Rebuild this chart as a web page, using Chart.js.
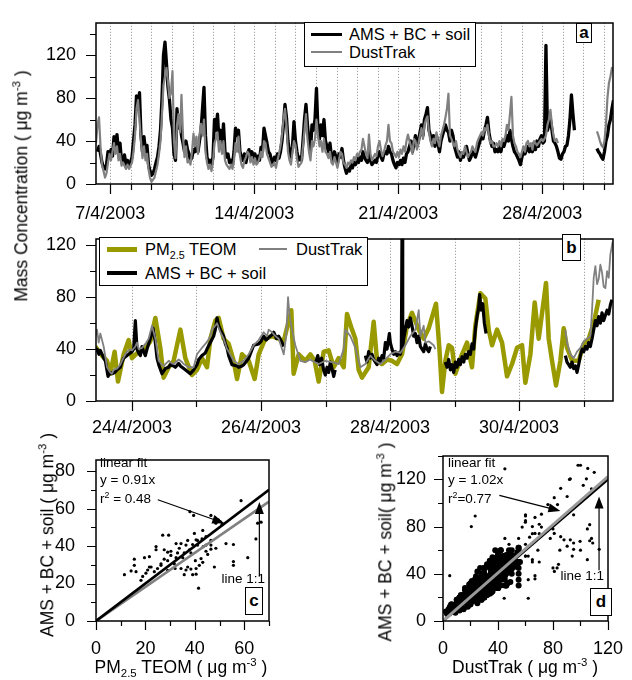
<!DOCTYPE html>
<html>
<head>
<meta charset="utf-8">
<script src="https://cdn.jsdelivr.net/npm/chart.js@4.4.0/dist/chart.umd.min.js"></script>
<style>
  body { margin: 0; background: #fff; font-family: "Liberation Sans", Arial, sans-serif; color: #000; }
  #wrap { position: relative; width: 632px; height: 680px; overflow: hidden; }
  canvas { position: absolute; }
  .t { position: absolute; white-space: nowrap; font-size: 16.5px; line-height: 1; transform: translateY(-50%); }
  .s { font-size: 13.5px; }
  .ct { position: absolute; white-space: nowrap; font-size: 17.5px; line-height: 1; transform: translate(-50%, -50%); }
  .rot { position: absolute; white-space: nowrap; font-size: 17.5px; line-height: 1; transform: translate(-50%, -50%) rotate(-90deg); }
  .lg { position: absolute; border: 1.5px solid #000; background: #fff; box-sizing: border-box; }
  .ln { position: absolute; }
  .bx { position: absolute; border: 1.5px solid #000; background: #fff; box-sizing: border-box;
        font-weight: bold; font-size: 17px; display: flex; align-items: center; justify-content: center; }
  sup { font-size: 65%; position: relative; top: -0.6em; vertical-align: baseline; line-height: 0; }
  sub { font-size: 65%; position: relative; top: 0.35em; vertical-align: baseline; line-height: 0; }
</style>
</head>
<body>
<div id="wrap">
  <canvas id="ca" width="632" height="230" style="left:0;top:0"></canvas>
  <canvas id="cb" width="632" height="226" style="left:0;top:216px"></canvas>
  <canvas id="cc" width="300" height="244" style="left:0;top:436px"></canvas>
  <canvas id="cd" width="316" height="244" style="left:316px;top:436px"></canvas>

  <div class="rot" style="left:22px;top:186px">Mass Concentration ( μg m<sup>-3</sup> )</div>

  <!-- panel a legend -->
  <div class="lg" style="left:304px;top:22px;width:172px;height:45px"></div>
  <div class="ln" style="left:311px;top:32.5px;width:31px;height:3px;background:#000"></div>
  <div class="ln" style="left:311px;top:51px;width:31px;height:2px;background:#808080"></div>
  <div class="t" style="left:349px;top:34px">AMS + BC + soil</div>
  <div class="t" style="left:349px;top:52px">DustTrak</div>
  <div class="bx" style="left:576px;top:23px;width:16px;height:20px">a</div>

  <!-- panel b legend -->
  <div class="lg" style="left:99px;top:237px;width:269px;height:49px"></div>
  <div class="ln" style="left:107px;top:247px;width:30px;height:5px;background:#999900"></div>
  <div class="t" style="left:145px;top:249px">PM<sub>2.5</sub> TEOM</div>
  <div class="ln" style="left:259px;top:248px;width:28px;height:2px;background:#808080"></div>
  <div class="t" style="left:296px;top:249px">DustTrak</div>
  <div class="ln" style="left:107px;top:271px;width:30px;height:4px;background:#000"></div>
  <div class="t" style="left:145px;top:273px">AMS + BC + soil</div>
  <div class="bx" style="left:562px;top:234px;width:19px;height:27px">b</div>

  <!-- panel c text -->
  <div class="t s" style="left:100px;top:463px">linear fit</div>
  <div class="t s" style="left:100px;top:480px">y = 0.91x</div>
  <div class="t s" style="left:100px;top:499px">r<sup>2</sup> = 0.48</div>
  <div class="t s" style="right:367px;top:579px">line 1:1</div>
  <div class="bx" style="left:245px;top:587px;width:18px;height:28px">c</div>
  <div class="rot" style="left:48px;top:535px">AMS + BC + soil ( μg m<sup>-3</sup> )</div>
  <div class="ct" style="left:181px;top:668px">PM<sub>2.5</sub> TEOM ( μg m<sup>-3</sup> )</div>

  <!-- panel d text -->
  <div class="t s" style="left:448px;top:463px">linear fit</div>
  <div class="t s" style="left:448px;top:480px">y = 1.02x</div>
  <div class="t s" style="left:448px;top:499px">r<sup>2</sup>=0.77</div>
  <div class="t s" style="right:28px;top:576px">line 1:1</div>
  <div class="bx" style="left:590px;top:588px;width:22px;height:28px">d</div>
  <div class="rot" style="left:386px;top:542px">AMS + BC + soil( μg m<sup>-3</sup> )</div>
  <div class="ct" style="left:525px;top:668px">DustTrak ( μg m<sup>-3</sup> )</div>
</div>

<script>
// ---- panel a: whole campaign, 1.75 h samples (day of April; 31 = 1 May) ----
const tStartA = 6.305;
const tStepA = 1.75 / 24;
const amsA = [
  null, 30, 35, 28, 20, 15, 14, 18, 30, 25, 32, 26, 44, 35, 46, 30, 38, 22, 20, 27,
  18, 22, 17, 20, 25, 40, 55, 82, 70, 85, 45, 30, 44, 30, 36, 18, 12, 8, 10, 14,
  20, 25, 35, 50, 80, 120, 132, 112, 90, 78, 60, 52, 28, 22, 70, 52, 60, 45, 38, 30,
  40, 32, 28, 22, 25, 32, 30, 38, 30, 40, 50, 70, 90, 45, 25, 20, 22, 18, 25, 60,
  50, 65, 40, 50, 35, 56, 30, 25, 28, 20, 22, 18, 30, 52, 45, 50, 30, 25, 22, 28,
  20, 28, 32, 25, 30, 22, 28, 20, 26, 22, 34, 30, 52, 45, 38, 30, 28, 22, 18, 25,
  22, 28, 24, 30, 40, 55, 74, 62, 40, 30, 25, 35, 58, 40, 30, 22, 25, 22, 40, 60,
  74, 55, 40, 30, 55, 50, 60, 89, 50, 42, 55, 45, 60, 40, 35, 30, 38, 25, 22, 30,
  25, 20, 28, 25, 33, 22, 15, 10, 14, 12, 18, 15, 20, 18, 24, 20, 25, 22, 30, 25,
  22, 20, 30, 22, 18, 20, 22, 20, 28, 30, 25, 22, 28, 30, 28, 35, 30, 28, 22, 18,
  15, 20, 18, 22, 18, 24, 20, 28, 30, 35, 40, 30, 38, 45, 35, 40, 48, 55, 45, 60,
  65, 71, 50, 45, 38, 45, 35, 45, 38, 30, 40, 45, 50, 55, 50, 48, 40, 50, 45, 35,
  30, 25, 30, 22, 28, 25, 30, 35, 28, 22, 25, 30, 28, 25, 30, 35, 40, 45, 42, 50,
  55, 62, 48, 40, 35, 38, 30, 32, 30, 35, 30, 38, 35, 40, 45, 40, 50, 42, 35, 30,
  28, 25, 22, 18, 25, 30, 28, 32, 35, 30, 35, 30, 38, 32, 40, 35, 42, 45, 38, 40,
  129, 50, 55, 60, 50, 40, 38, 35, 30, 24, 23, 28, 30, 35, 36, 45, 60, 83, 65, 50,
  null, null, null, null, null, null, null, null, null, null, null, null, null, null,
  33, 30, 28, 25, 23, 30, 40, 45, 55, 60, 70, 78
];
const dustA = [
  38, 55, 62, 35, 18, 12, 6, 10, 20, 28, 22, 30, 38, 28, 35, 22, 28, 17, 20, 17,
  14, 18, 14, 17, 20, 30, 45, 70, 78, 60, 40, 24, 35, 22, 28, 14, 6, 2, 4, 6,
  12, 18, 28, 40, 65, 92, 100, 108, 95, 80, 85, 105, 40, 24, 55, 65, 48, 83, 45, 25,
  35, 20, 22, 18, 30, 47, 35, 44, 28, 45, 56, 45, 60, 30, 20, 14, 18, 12, 20, 38,
  42, 48, 30, 40, 28, 40, 22, 18, 16, 14, 18, 14, 22, 38, 30, 44, 26, 18, 15, 22,
  25, 30, 28, 20, 25, 18, 24, 18, 20, 24, 30, 25, 40, 38, 28, 24, 20, 16, 18, 20,
  15, 22, 28, 35, 45, 60, 70, 55, 30, 22, 18, 30, 40, 36, 24, 16, 18, 20, 35, 50,
  65, 42, 30, 22, 40, 35, 42, 60, 45, 35, 40, 30, 42, 30, 28, 24, 30, 20, 18, 25,
  20, 15, 22, 30, 28, 20, 18, 15, 20, 18, 22, 20, 25, 22, 28, 26, 30, 32, 42, 35,
  28, 24, 46, 28, 22, 25, 28, 26, 35, 40, 32, 26, 30, 36, 40, 55, 40, 38, 30, 28,
  25, 30, 25, 32, 28, 35, 30, 40, 46, 40, 35, 28, 42, 40, 32, 38, 45, 52, 42, 55,
  60, 63, 48, 40, 35, 42, 38, 48, 40, 35, 45, 50, 55, 62, 70, 84, 45, 42, 38, 35,
  40, 32, 28, 25, 30, 28, 35, 30, 25, 28, 30, 35, 32, 30, 38, 42, 45, 48, 45, 52,
  50, 55, 45, 38, 40, 35, 35, 38, 35, 40, 35, 42, 40, 45, 55, 50, 65, 81, 45, 38,
  35, 30, 28, 25, 30, 35, 30, 38, 40, 35, 38, 32, 40, 38, 36, 38, 40, 42, 40, 42,
  45, 55, 60, 69, 55, 45, 40, 42, 38,
  null, null, null, null, null, null, null, null, null, null, null, null, null, null,
  null, null, null, null, null, null, null, null, null, null, null,
  49, 45, 40, 36, 34, 40, 55, 80, 94, 100, 108, 105
];
const tA = amsA.map((_, i) => tStartA + i * tStepA);
const dayTicksA = [7, 14, 21, 28];
const dayLabelsA = ['7/4/2003', '14/4/2003', '21/4/2003', '28/4/2003'];

// ---- panel b: last week, [day, value] ----
const teomB = [
  [23.432, 42], [23.535, 35], [23.613, 31], [23.664, 21], [23.731, 38], [23.783, 15], [23.871, 36],
  [23.948, 47], [24.000, 33], [24.103, 38], [24.207, 41], [24.284, 46], [24.362, 64], [24.439, 41],
  [24.491, 18], [24.569, 26], [24.646, 31], [24.750, 55], [24.827, 33], [24.930, 20], [25.008, 24],
  [25.085, 33], [25.163, 26], [25.215, 48], [25.292, 62], [25.344, 64], [25.421, 48], [25.499, 44],
  [25.576, 31], [25.628, 17], [25.706, 36], [25.809, 31], [25.902, 17], [25.964, 36], [26.067, 48],
  [26.171, 50], [26.274, 48], [26.352, 46], [26.470, 70], [26.506, 21], [26.584, 36], [26.687, 31],
  [26.765, 36], [26.832, 31], [26.894, 15], [26.972, 38], [27.049, 39], [27.127, 26], [27.204, 33],
  [27.282, 26], [27.333, 67], [27.411, 55], [27.463, 48], [27.514, 24], [27.566, 18], [27.669, 26],
  [27.747, 61], [27.799, 31], [27.876, 28.5], [27.954, 32], [28.031, 31], [28.109, 28.5], [28.186, 36],
  [28.264, 58], [28.341, 68], [28.445, 55], [28.522, 48], [28.600, 56], [28.713, 75], [28.765, 41],
  [28.806, 7], [28.858, 31], [28.910, 43], [28.961, 41], [29.013, 21], [29.117, 36], [29.194, 45],
  [29.271, 26], [29.323, 58], [29.401, 83], [29.478, 79], [29.530, 55], [29.582, 43], [29.659, 55],
  [29.737, 45], [29.814, 19], [29.892, 28.5], [29.969, 41], [30.047, 43], [30.098, 14], [30.176, 36],
  [30.243, 76], [30.305, 48], [30.419, 91], [30.460, 48], [30.512, 31], [30.574, 12], [30.641, 31],
  [30.693, 56], [30.744, 41], [30.822, 31], [30.925, 31], [31.003, 44], [31.080, 48], [31.158, 60],
  [31.235, 78]
];
const amsB = [
  [23.406, 44], [23.432, 38], [23.458, 40], [23.487, 36], [23.509, 39], [23.561, 33], [23.587, 31],
  [23.628, 19], [23.664, 22], [23.690, 21], [23.731, 22], [23.768, 24], [23.819, 26], [23.845, 30],
  [23.871, 33], [23.923, 35], [23.948, 36], [24.000, 38], [24.026, 40], [24.052, 62], [24.078, 40],
  [24.103, 37], [24.130, 35], [24.155, 42], [24.181, 38], [24.207, 35], [24.233, 40], [24.284, 48],
  [24.326, 56], [24.362, 45], [24.388, 33], [24.414, 28], [24.465, 21], [24.517, 25], [24.569, 26],
  [24.594, 28], [24.646, 27], [24.672, 26], [24.724, 29], [24.750, 27], [24.801, 25], [24.827, 24],
  [24.879, 22], [24.904, 21], [24.956, 24], [25.008, 28], [25.034, 32], [25.085, 35], [25.137, 37],
  [25.163, 40], [25.215, 45], [25.266, 50], [25.292, 55], [25.318, 64], [25.344, 58], [25.370, 55],
  [25.421, 50], [25.447, 44], [25.473, 41], [25.499, 35], [25.550, 28], [25.628, 27], [25.654, 26],
  [25.706, 27], [25.731, 28], [25.809, 33], [25.886, 43], [25.964, 44], [26.000, 46], [26.041, 50],
  [26.080, 47], [26.119, 49], [26.171, 51], [26.197, 53], [26.240, 48], [26.274, 50], [26.326, 45],
  [26.352, 42], [26.600, null],
  [26.850, 30], [26.880, 35], [26.910, 28], [26.940, 33], [26.970, 24], [26.997, 20], [27.023, 26],
  [27.049, 22], [27.075, 30], [27.101, 25], [27.127, 19], [27.150, 24], [27.400, null],
  [27.618, 35], [27.643, 30], [27.669, 38], [27.695, 33], [27.721, 36], [27.747, 32], [27.773, 30],
  [27.799, 28], [27.825, 33], [27.850, 30], [27.876, 35], [27.902, 33], [27.928, 45], [27.954, 40],
  [27.990, 52], [28.005, 45], [28.031, 40], [28.057, 36], [28.083, 38], [28.109, 35], [28.135, 37],
  [28.160, 36], [28.176, 40], [28.186, 130], [28.197, 42], [28.212, 48], [28.238, 55], [28.264, 62],
  [28.290, 57], [28.315, 64], [28.341, 58], [28.367, 50], [28.393, 52], [28.419, 45], [28.445, 50],
  [28.471, 42], [28.497, 40], [28.522, 38], [28.548, 44], [28.574, 40], [28.600, 38], [28.626, 42],
  [28.750, null],
  [28.858, 30], [28.884, 26], [28.910, 32], [28.936, 24], [28.961, 28], [28.987, 22], [29.013, 30],
  [29.039, 26], [29.065, 32], [29.091, 28], [29.117, 34], [29.143, 30], [29.168, 36], [29.194, 33],
  [29.220, 38], [29.246, 36], [29.271, 44], [29.297, 40], [29.323, 55], [29.349, 65], [29.375, 72],
  [29.390, 82], [29.411, 70], [29.437, 75], [29.463, 60], [29.489, 52], [30.000, null],
  [30.719, 35], [30.744, 30], [30.770, 28], [30.796, 26], [30.822, 30], [30.848, 25], [30.874, 27],
  [30.899, 22], [30.925, 28], [30.951, 35], [30.977, 40], [31.003, 38], [31.029, 42], [31.055, 40],
  [31.080, 45], [31.106, 42], [31.132, 48], [31.158, 55], [31.184, 62], [31.210, 58], [31.235, 65],
  [31.261, 60], [31.287, 68], [31.313, 62], [31.339, 66], [31.365, 70], [31.391, 67], [31.416, 74],
  [31.440, 78]
];
const dustB = [
  [23.406, 60], [23.432, 50], [23.458, 55], [23.484, 45], [23.509, 52], [23.561, 42], [23.613, 26],
  [23.664, 22], [23.690, 21], [23.716, 24], [23.768, 25], [23.819, 28], [23.845, 31], [23.898, 36],
  [23.923, 38], [23.974, 40], [24.000, 39], [24.052, 42], [24.078, 45], [24.103, 40], [24.155, 41],
  [24.207, 44], [24.258, 48], [24.310, 58], [24.362, 48], [24.414, 31], [24.465, 28], [24.491, 27],
  [24.569, 31], [24.620, 29], [24.646, 28.5], [24.724, 32], [24.775, 30], [24.801, 28.5], [24.879, 26],
  [24.956, 26], [25.008, 36], [25.085, 41], [25.163, 45.5], [25.215, 50], [25.240, 55], [25.292, 58],
  [25.318, 60], [25.370, 53], [25.421, 48], [25.473, 40], [25.499, 38], [25.576, 31], [25.654, 28.5],
  [25.731, 31], [25.809, 36], [25.886, 43], [25.964, 47], [26.041, 53], [26.093, 50], [26.119, 55],
  [26.171, 53], [26.223, 50], [26.274, 48], [26.352, 36], [26.390, 50], [26.419, 80], [26.445, 65],
  [26.481, 55], [26.532, 43], [26.610, 31], [26.687, 30], [26.765, 32], [26.791, 31], [26.894, 28.5],
  [26.997, 31], [27.101, 30], [27.204, 28.5], [27.282, 40], [27.308, 55], [27.385, 50], [27.463, 41],
  [27.540, 26], [27.618, 28.5], [27.695, 35], [27.773, 31], [27.850, 28.5], [27.928, 32], [28.005, 36],
  [28.083, 38], [28.160, 37], [28.238, 43], [28.315, 50], [28.393, 55], [28.445, 70], [28.471, 50],
  [28.522, 58], [28.548, 45], [28.600, 46], [28.677, 43], [28.703, 40], [29.500, null],
  [30.719, 55], [30.744, 45], [30.796, 36], [30.848, 33], [30.899, 38], [30.951, 41], [31.003, 46],
  [31.055, 48], [31.106, 50], [31.132, 70], [31.158, 95], [31.184, 104], [31.210, 90], [31.235, 94],
  [31.261, 105], [31.287, 99], [31.313, 88], [31.339, 87], [31.365, 100], [31.391, 95], [31.416, 113],
  [31.453, 123]
];
const dayTicksB = [24, 26, 28, 30];
const dayLabelsB = ['24/4/2003', '26/4/2003', '28/4/2003', '30/4/2003'];

// ---- panel c: hourly AMS+BC+soil vs PM2.5 TEOM, [teom, ams] ----
const scatterC = [
  [58.7, 64.2], [38.0, 58.3], [39.5, 56.3], [46.5, 56.3], [48.5, 52.2], [50.2, 53], [49.5, 54], [51, 51.5],
  [27.0, 45.8], [29.4, 45.8], [39.8, 46.7], [43.2, 48.3], [44.5, 45], [46.5, 43], [37.1, 43], [40.5, 43.3],
  [41.1, 40.5], [39.1, 40.8], [36.4, 40.5], [24.3, 39.7], [24.3, 38], [27.6, 38], [29, 36.7], [30.3, 37.2],
  [30.3, 35], [46.5, 40.5], [46.5, 38.3], [48.5, 38.8], [52.6, 41.3], [55.6, 40.8], [15.5, 33], [19.6, 33.8],
  [21.6, 34.3], [27.6, 33], [32.4, 33.8], [35.1, 33.8], [35.7, 36.3], [42.5, 33.3], [43.2, 31.3], [40.2, 32.2],
  [41.8, 29.7], [40.5, 28], [38.4, 27.7], [37.1, 28.8], [34.4, 28], [31.7, 30.5], [29, 32.2], [26.3, 29.7],
  [24.9, 28], [22.3, 28.8], [20.2, 25.5], [18.9, 23.8], [18.2, 21.7], [15.5, 29.7], [11.5, 24.7], [14.2, 26.7],
  [55.6, 31.7], [55.6, 29.7], [61.4, 33.8], [64.7, 43.8], [65.4, 52.2], [66.8, 52.7], [66.1, 58], [41.5, 17.5],
  [39.1, 24.7], [40.5, 25], [47.9, 28.8], [33, 36.3], [33.7, 38.8], [34.4, 41.3], [32.4, 41.3], [41.1, 43],
  [42.9, 43.8], [43.4, 39.7], [44.5, 40.5], [37.8, 38], [38.4, 36.3], [44.5, 37.2], [45.2, 35.5], [35.7, 24.7],
  [32, 28], [26.3, 30.5], [21.6, 28.8], [23.6, 26.3], [20.9, 27.2], [16.2, 26.3], [36.4, 27.2], [29, 27]
];
const slopeC = 0.91;

// ---- panel d: AMS+BC+soil vs DustTrak [dust, ams]; panel a pairs plus points ----
const scatterDCloud = [
  [3, 6], [4, 9], [5, 7], [6, 11], [7, 9], [8, 13], [9, 10], [10, 15], [11, 12], [12, 17], [13, 14], [14, 19],
  [15, 16], [16, 22], [17, 18], [18, 24], [19, 20], [20, 27], [21, 22], [22, 30], [23, 25], [24, 33], [25, 28],
  [26, 36], [27, 30], [28, 40], [29, 33], [30, 44], [31, 35], [32, 48], [33, 38], [34, 51], [35, 40], [36, 54],
  [37, 42], [38, 50], [39, 45], [40, 53], [41, 47], [42, 52], [43, 49], [44, 55], [45, 50], [46, 56], [47, 52],
  [48, 57], [49, 54], [50, 56], [52, 55], [54, 58], [15, 11], [18, 13], [20, 16], [22, 17], [24, 19], [26, 21],
  [28, 23], [30, 25], [32, 27], [34, 28], [36, 30], [38, 32], [40, 33], [42, 36], [44, 37], [46, 40], [48, 42],
  [50, 44], [52, 46], [54, 47], [12, 20], [16, 26], [19, 31], [24, 38], [28, 36], [32, 31], [34, 45], [38, 38],
  [42, 43], [46, 47], [36, 48], [30, 39], [26, 26], [22, 23], [18, 19], [14, 15], [40, 41], [44, 45], [51, 50],
  [27, 45], [25, 42], [23, 35], [35, 36], [37, 35], [33, 34], [31, 30], [29, 28], [39, 40], [41, 38], [43, 44],
  [45, 43], [47, 48], [49, 46], [21, 34], [17, 27], [13, 22], [10, 18], [7, 14], [5, 12], [9, 7], [12, 9]
];
const scatterDExtra = [
  [23.4, 89], [20.6, 80], [4.9, 38.4], [98.2, 132], [105.3, 129.3], [110, 126], [92.6, 120.5], [104.3, 120.5],
  [102, 115], [85.6, 112.4], [80.9, 104.5], [90.3, 105.5], [83.3, 98.7], [76.3, 98.7], [71.6, 90.5], [66.9, 87.8],
  [59.9, 83.7], [57.6, 79.6], [80.9, 74.2], [85.6, 71.5], [92.6, 68.8], [95, 66.1], [99.7, 67.5], [106.7, 81.6],
  [106.7, 68], [90.3, 63.4], [88, 68.8], [95, 60.7], [108.9, 66.1], [113.6, 60.7], [71.6, 79.6], [66.9, 74.2],
  [44.5, 19.3], [62, 19.3], [66.9, 38.4], [66.9, 35.7], [55.2, 45.2], [52.9, 54.7]
];
const slopeD = 1.02;

Chart.defaults.font.family = "'Liberation Sans', Arial, sans-serif";
Chart.defaults.font.size = 18;
Chart.defaults.color = '#000';

// frame, outward tick marks, dotted day grid and arrows
const framePlugin = {
  id: 'frame',
  beforeDatasetsDraw(chart, args, o) {
    if (!o.gridStep) return;
    const { ctx, chartArea: a } = chart;
    const x = chart.scales.x;
    ctx.save();
    ctx.strokeStyle = '#8c8c8c';
    ctx.lineWidth = 1;
    ctx.setLineDash([1, 2]);
    for (let v = Math.ceil(x.min / o.gridStep) * o.gridStep; v < x.max; v += o.gridStep) {
      const px = Math.round(x.getPixelForValue(v)) + 0.5;
      ctx.beginPath();
      ctx.moveTo(px, a.top);
      ctx.lineTo(px, a.bottom);
      ctx.stroke();
    }
    ctx.restore();
  },
  afterDraw(chart, args, o) {
    const { ctx, chartArea: a } = chart;
    const { x, y } = chart.scales;
    ctx.save();
    ctx.strokeStyle = '#000';
    ctx.fillStyle = '#000';
    ctx.lineWidth = 1.2;
    const marks = (s, minor, major, fn) => {
      for (let v = Math.ceil(s.min / minor - 1e-9) * minor; v <= s.max + 1e-9; v += minor) {
        const isMajor = Math.abs(v / major - Math.round(v / major)) < 1e-6;
        fn(Math.round(s.getPixelForValue(v)) + 0.5, isMajor ? o.majorLen : o.minorLen);
      }
    };
    ctx.beginPath();
    marks(x, o.xMinor, o.xMajor, (p, l) => { ctx.moveTo(p, a.bottom); ctx.lineTo(p, a.bottom + l); });
    marks(y, o.yMinor, o.yMajor, (p, l) => { ctx.moveTo(a.left, p); ctx.lineTo(a.left - l, p); });
    ctx.stroke();
    ctx.lineWidth = 1.5;
    ctx.strokeRect(Math.round(a.left), Math.round(a.top), Math.round(a.right - a.left), Math.round(a.bottom - a.top));

    (o.arrows || []).forEach((ar) => {
      const x0 = x.getPixelForValue(ar.from[0]), y0 = y.getPixelForValue(ar.from[1]);
      const x1 = x.getPixelForValue(ar.to[0]), y1 = y.getPixelForValue(ar.to[1]);
      const ang = Math.atan2(y1 - y0, x1 - x0);
      const L = 12, W = 4.5;
      const c = Math.cos(ang), s = Math.sin(ang);
      ctx.lineWidth = 1.2;
      ctx.beginPath();
      ctx.moveTo(x0, y0);
      ctx.lineTo(x1 - L * c * 0.8, y1 - L * s * 0.8);
      ctx.stroke();
      ctx.beginPath();
      ctx.moveTo(x1, y1);
      ctx.lineTo(x1 - L * c + W * s, y1 - L * s - W * c);
      ctx.lineTo(x1 - L * c - W * s, y1 - L * s + W * c);
      ctx.closePath();
      ctx.fill();
    });
    ctx.restore();
  }
};

function makeChart(id, o) {
  return new Chart(document.getElementById(id), {
    type: o.type,
    data: { datasets: o.datasets },
    options: {
      responsive: false,
      animation: false,
      events: [],
      layout: { padding: { left: 0, top: o.top, right: o.right, bottom: 0 } },
      plugins: { legend: { display: false }, tooltip: { enabled: false }, frame: o.frame },
      scales: {
        x: {
          type: 'linear', min: o.xMin, max: o.xMax,
          grid: { display: false }, border: { display: false },
          afterBuildTicks: (s) => { s.ticks = o.xTicks.map((v) => ({ value: v })); },
          afterFit: (s) => { s.height = o.xH; },
          ticks: {
            autoSkip: false, maxRotation: 0, padding: o.xPad, color: '#000', font: { size: 18 },
            callback: (v) => (o.xLabels ? o.xLabels[o.xTicks.indexOf(v)] : String(v))
          }
        },
        y: {
          type: 'linear', min: o.yMin, max: o.yMax,
          grid: { display: false }, border: { display: false },
          afterBuildTicks: (s) => { s.ticks = o.yTicks.map((v) => ({ value: v })); },
          afterFit: (s) => { s.width = o.yW; },
          ticks: { autoSkip: false, padding: o.yPad, color: '#000', font: { size: 18 }, callback: (v) => String(v) }
        }
      }
    },
    plugins: [framePlugin]
  });
}

const lineStyle = { pointRadius: 0, tension: 0, borderJoinStyle: 'round', spanGaps: false, fill: false };

// panel a
makeChart('ca', {
  type: 'line', top: 13, right: 19, xH: 46, yW: 96, xPad: 11, yPad: 12,
  xMin: 6.305, xMax: 31.44, yMin: 0, yMax: 150,
  xTicks: dayTicksA, xLabels: dayLabelsA, yTicks: [0, 40, 80, 120],
  frame: { gridStep: 1, xMinor: 1, xMajor: 7, yMinor: 20, yMajor: 40, majorLen: 10, minorLen: 6 },
  datasets: [
    { ...lineStyle, label: 'DustTrak', order: 0, borderColor: '#808080', borderWidth: 2.2,
      data: tA.map((t, i) => ({ x: t, y: dustA[i] })) },
    { ...lineStyle, label: 'AMS + BC + soil', order: 1, borderColor: '#000', borderWidth: 3.3,
      data: tA.map((t, i) => ({ x: t, y: amsA[i] })) }
  ]
});

// panel b
const toXY = (arr) => arr.map(([t, v]) => ({ x: t, y: v }));
makeChart('cb', {
  type: 'line', top: 13, right: 19, xH: 41, yW: 96, xPad: 8, yPad: 12,
  xMin: 23.442, xMax: 31.457, yMin: 0, yMax: 125,
  xTicks: dayTicksB, xLabels: dayLabelsB, yTicks: [0, 40, 80, 120],
  frame: { gridStep: 1, xMinor: 1, xMajor: 2, yMinor: 20, yMajor: 40, majorLen: 10, minorLen: 6 },
  datasets: [
    { ...lineStyle, label: 'DustTrak', order: 0, borderColor: '#808080', borderWidth: 1.8, data: toXY(dustB) },
    { ...lineStyle, label: 'AMS + BC + soil', order: 1, borderColor: '#000', borderWidth: 3.2, data: toXY(amsB) },
    { ...lineStyle, label: 'PM2.5 TEOM', order: 2, borderColor: '#999900', borderWidth: 4.5, data: toXY(teomB) }
  ]
});

// panel c
makeChart('cc', {
  type: 'scatter', top: 13, right: 31, xH: 59, yW: 96, xPad: 9, yPad: 13,
  xMin: 0, xMax: 70, yMin: 0, yMax: 86,
  xTicks: [0, 20, 40, 60], yTicks: [0, 20, 40, 60, 80],
  frame: {
    xMinor: 10, xMajor: 20, yMinor: 10, yMajor: 20, majorLen: 9, minorLen: 5,
    arrows: [{ from: [25, 64.7], to: [51.9, 52.2] }, { from: [66.1, 23.8], to: [66.1, 63.5] }]
  },
  datasets: [
    { label: '1:1', order: 1, showLine: true, pointRadius: 0, borderColor: '#000', borderWidth: 2.6,
      data: [{ x: 0, y: 0 }, { x: 70, y: 70 }] },
    { label: 'fit', order: 2, showLine: true, pointRadius: 0, borderColor: '#808080', borderWidth: 2.6,
      data: [{ x: 0, y: 0 }, { x: 70, y: 70 * slopeC }] },
    { label: 'hourly', order: 3, pointRadius: 1.6, pointBorderWidth: 0, backgroundColor: '#000',
      data: scatterC.map(([a, b]) => ({ x: a, y: b })) }
  ]
});

// panel d
const pairsD = dustA.map((d, i) => ({ x: d, y: amsA[i] }))
  .filter((p) => p.x !== null && p.y !== null)
  .concat(scatterDCloud.map(([a, b]) => ({ x: a, y: b })));
makeChart('cd', {
  type: 'scatter', top: 13, right: 18, xH: 59, yW: 127, xPad: 9, yPad: 9,
  xMin: 0, xMax: 120, yMin: 0, yMax: 140,
  xTicks: [0, 40, 80, 120], yTicks: [0, 40, 80, 120],
  frame: {
    xMinor: 20, xMajor: 40, yMinor: 20, yMajor: 40, majorLen: 9, minorLen: 5,
    arrows: [{ from: [41, 106.4], to: [85.4, 93.3] }, { from: [113.5, 43], to: [113.5, 105.6] }]
  },
  datasets: [
    { label: 'fit', order: 1, showLine: true, pointRadius: 0, borderColor: '#999999', borderWidth: 3,
      data: [{ x: 0, y: 0 }, { x: 120, y: 120 * slopeD }] },
    { label: '1:1', order: 2, showLine: true, pointRadius: 0, borderColor: '#000', borderWidth: 2.6,
      data: [{ x: 0, y: 0 }, { x: 120, y: 120 }] },
    { label: 'cloud', order: 3, pointBorderWidth: 0, backgroundColor: '#000', data: pairsD,
      pointRadius: (c) => (c.raw && c.raw.x <= 56 && c.raw.y <= 62 ? 3 : 1.6) },
    { label: 'scattered', order: 4, pointRadius: 1.6, pointBorderWidth: 0, backgroundColor: '#000',
      data: scatterDExtra.map(([a, b]) => ({ x: a, y: b })) }
  ]
});
</script>
</body>
</html>
